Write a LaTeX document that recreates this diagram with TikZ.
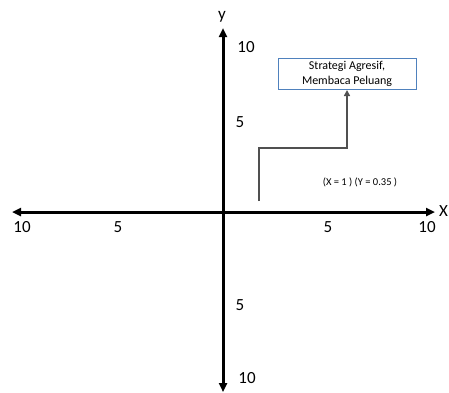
\documentclass[tikz,border=0pt]{standalone}
\usepackage{fontspec}
\setmainfont{Carlito}
\usetikzlibrary{arrows.meta}
\definecolor{boxblue}{RGB}{79,129,189}
\definecolor{conngray}{RGB}{80,80,80}
\tikzset{
  axis/.style={line width=3pt, {Triangle[length=9pt,width=8pt]}-{Triangle[length=9pt,width=8pt]}},
  lbl/.style={font=\fontsize{17}{20}\selectfont, inner sep=0pt},
  conn/.style={draw=conngray, line width=1.5pt, -{Triangle[length=6pt,width=6pt]}},
  infobox/.style={draw=boxblue, line width=1pt, minimum width=138pt, minimum height=31pt, align=center, inner sep=1pt, font=\fontsize{12}{15}\selectfont}
}
\begin{document}
\begin{tikzpicture}[x=1pt,y=-1pt]
\useasboundingbox (0,0) rectangle (449,392);
\coordinate (L) at (12,212);
\coordinate (R) at (435,212);
\coordinate (T) at (223,28);
\coordinate (B) at (223,392);
\draw[axis] (L) -- (R);
\draw[axis] (B) -- (T);
\node[lbl] (ly) at (222,17) {y};
\node[lbl, anchor=west] (lx) at (439,211) {X};
\node[lbl] (yt10) at (246,47) {10};
\node[lbl] (yt5) at (240,122) {5};
\node[lbl] (yb5) at (240,305) {5};
\node[lbl] (yb10) at (247,378) {10};
\node[lbl] (xl10) at (22,227) {10};
\node[lbl] (xl5) at (118,227) {5};
\node[lbl] (xr5) at (328,227) {5};
\node[lbl] (xr10) at (427,227) {10};
\node[infobox] (box) at (347,74) {Strategi Agresif,\\Membaca Peluang};
\coordinate (s) at (259,201);
\coordinate (k) at (259,148);
\draw[conn] (s) -- (k) -| (box.south);
\node[font=\fontsize{10.5}{12}\selectfont, inner sep=0pt] (val) at (360,182) {(X = 1 ) (Y = 0.35 )};
\end{tikzpicture}
\end{document}
